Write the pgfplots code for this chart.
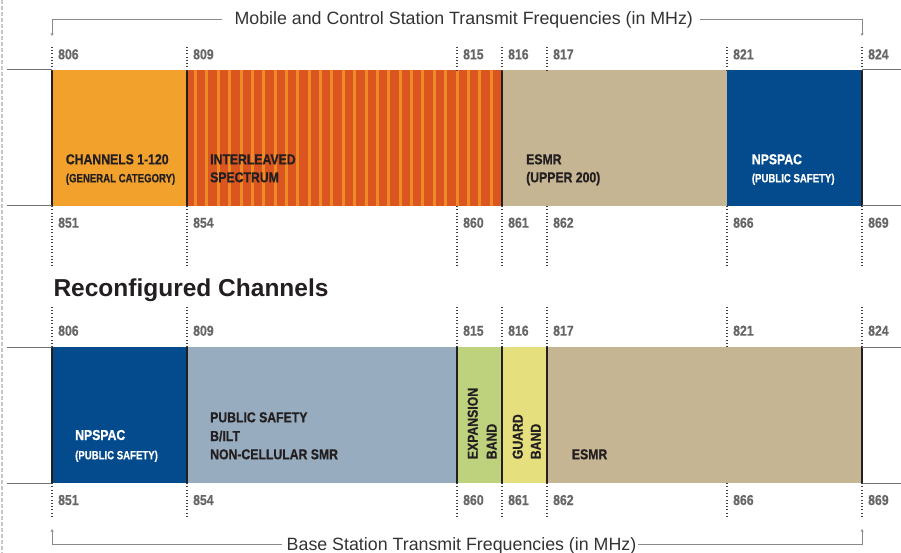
\documentclass[border=0pt]{standalone}
\usepackage{pgfplots}
\pgfplotsset{compat=1.18}
\usetikzlibrary{arrows.meta}
\usepackage{fontspec}
\setmainfont{Liberation Sans}
\newfontfamily\condfont[FakeStretch=0.85,FakeBold=0.6]{Liberation Sans}
\newfontfamily\narrowfont[FakeStretch=0.8,FakeBold=0.5]{Liberation Sans}
\newfontfamily\headfont{Liberation Sans}

\definecolor{bandorange}{HTML}{F2A12C}
\definecolor{interbase}{HTML}{DB5521}
\definecolor{interstripe}{HTML}{EF8B25}
\definecolor{esmrtan}{HTML}{C6B593}
\definecolor{npnavy}{HTML}{034B8C}
\definecolor{psblue}{HTML}{97ACBF}
\definecolor{expgreen}{HTML}{BED17D}
\definecolor{guardyellow}{HTML}{E5DF7E}
\definecolor{darkline}{HTML}{231F20}
\definecolor{tickgray}{HTML}{666666}
\definecolor{brackgray}{HTML}{8A8A8A}

\newcommand{\lab}[1]{{\condfont\bfseries\fontsize{14.4}{16}\selectfont #1}}
\newcommand{\sublab}[1]{{\narrowfont\bfseries\fontsize{12}{14}\selectfont #1}}
\newcommand{\tick}[1]{{\condfont\bfseries\fontsize{14.4}{16}\selectfont #1}}

\begin{document}
\begin{tikzpicture}[
  tk/.style={anchor=base west, inner sep=0, text=tickgray, xshift=6pt},
  bl/.style={anchor=base west, inner sep=0, text=darkline},
  wl/.style={anchor=base west, inner sep=0, text=white},
]
\begin{axis}[
  scale only axis, width=901pt, height=553pt,
  xmin=804.8444, xmax=824.8667, ymin=0, ymax=553,
  y dir=reverse, hide axis, clip=false,
  unbounded coords=jump,
]
% left dashed border
\addplot[draw=black!22, line width=2pt, dash pattern=on 4pt off 2pt] coordinates {(804.889,0) (804.889,553)};

% ---- current band plan
\addplot[fill=bandorange, draw=none] coordinates {(806,70) (809,70) (809,206) (806,206)} -- cycle;
\addplot[fill=interbase, draw=none] coordinates {(809,70) (816,70) (816,206) (809,206)} -- cycle;
\addplot[fill=esmrtan, draw=none] coordinates {(816,70) (821,70) (821,206) (816,206)} -- cycle;
\addplot[fill=npnavy, draw=none] coordinates {(821,70) (824,70) (824,206) (821,206)} -- cycle;
% interleaved stripes
\addplot[draw=interstripe, line width=3pt] coordinates {
(809.19,70) (809.19,206) (nan,nan) (809.44,70) (809.44,206) (nan,nan)
(809.69,70) (809.69,206) (nan,nan) (809.95,70) (809.95,206) (nan,nan)
(810.20,70) (810.20,206) (nan,nan) (810.45,70) (810.45,206) (nan,nan)
(810.70,70) (810.70,206) (nan,nan) (810.96,70) (810.96,206) (nan,nan)
(811.21,70) (811.21,206) (nan,nan) (811.46,70) (811.46,206) (nan,nan)
(811.72,70) (811.72,206) (nan,nan) (811.97,70) (811.97,206) (nan,nan)
(812.22,70) (812.22,206) (nan,nan) (812.47,70) (812.47,206) (nan,nan)
(812.73,70) (812.73,206) (nan,nan) (812.98,70) (812.98,206) (nan,nan)
(813.23,70) (813.23,206) (nan,nan) (813.48,70) (813.48,206) (nan,nan)
(813.74,70) (813.74,206) (nan,nan) (813.99,70) (813.99,206) (nan,nan)
(814.24,70) (814.24,206) (nan,nan) (814.49,70) (814.49,206) (nan,nan)
(814.75,70) (814.75,206) (nan,nan) (815.00,70) (815.00,206) (nan,nan)
(815.25,70) (815.25,206) (nan,nan) (815.50,70) (815.50,206) (nan,nan)
(815.76,70) (815.76,206)};

% ---- reconfigured band plan
\addplot[fill=npnavy, draw=none] coordinates {(806,347) (809,347) (809,483) (806,483)} -- cycle;
\addplot[fill=psblue, draw=none] coordinates {(809,347) (815,347) (815,483) (809,483)} -- cycle;
\addplot[fill=expgreen, draw=none] coordinates {(815,347) (816,347) (816,483) (815,483)} -- cycle;
\addplot[fill=guardyellow, draw=none] coordinates {(816,347) (817,347) (817,483) (816,483)} -- cycle;
\addplot[fill=esmrtan, draw=none] coordinates {(817,347) (824,347) (824,483) (817,483)} -- cycle;

% band edges
\addplot[draw=darkline, line width=2pt] coordinates {
(806,70) (806,206) (nan,nan) (809,70) (809,206) (nan,nan)
(816,70) (816,206) (nan,nan) (824,70) (824,206) (nan,nan)
(806,347) (806,483) (nan,nan) (809,347) (809,483) (nan,nan)
(815,347) (815,483) (nan,nan) (816,347) (816,483) (nan,nan)
(817,347) (817,483) (nan,nan) (824,347) (824,483)};

% outer guide lines
\addplot[draw=black!55, line width=1pt] coordinates {
(805.0,70) (806,70) (nan,nan) (805.0,206) (806,206) (nan,nan)
(824,70) (824.867,70) (nan,nan) (824,206) (824.867,206) (nan,nan)
(805.0,347) (806,347) (nan,nan) (805.0,483) (806,483) (nan,nan)
(824,347) (824.867,347) (nan,nan) (824,483) (824.867,483)};

% dotted frequency markers
\addplot[draw=black!75, line width=1.1pt, dash pattern=on 1pt off 2.3pt] coordinates {
(806,46.7) (806,70) (nan,nan) (809,46.7) (809,70) (nan,nan) (815,46.7) (815,70) (nan,nan)
(816,46.7) (816,70) (nan,nan) (817,46.7) (817,70) (nan,nan) (821,46.7) (821,70) (nan,nan)
(824,46.7) (824,70) (nan,nan)
(806,206) (806,266.7) (nan,nan) (809,206) (809,266.7) (nan,nan) (815,206) (815,266.7) (nan,nan)
(816,206) (816,266.7) (nan,nan) (817,206) (817,266.7) (nan,nan) (821,206) (821,266.7) (nan,nan)
(824,206) (824,266.7) (nan,nan)
(806,306.7) (806,347) (nan,nan) (809,306.7) (809,347) (nan,nan) (815,306.7) (815,347) (nan,nan)
(816,306.7) (816,347) (nan,nan) (817,306.7) (817,347) (nan,nan) (821,306.7) (821,347) (nan,nan)
(824,306.7) (824,347) (nan,nan)
(806,483) (806,518) (nan,nan) (809,483) (809,518) (nan,nan) (815,483) (815,518) (nan,nan)
(816,483) (816,518) (nan,nan) (817,483) (817,518) (nan,nan) (821,483) (821,518) (nan,nan)
(824,483) (824,518)};

% brackets
\addplot[draw=brackgray, line width=0.9pt, -{Stealth[length=3pt,width=3pt]}] coordinates {(809.78,19.3) (806,19.3) (806,36)};
\addplot[draw=brackgray, line width=0.9pt, -{Stealth[length=3pt,width=3pt]}] coordinates {(820.4,19.3) (824,19.3) (824,36)};
\addplot[draw=brackgray, line width=0.9pt, -{Stealth[length=3pt,width=3pt]}] coordinates {(811.11,544) (806,544) (806,529)};
\addplot[draw=brackgray, line width=0.9pt, -{Stealth[length=3pt,width=3pt]}] coordinates {(819.02,544) (824,544) (824,529)};

% titles
\node[anchor=base, inner sep=0, text=black!80] at (axis cs:815.15,25) {\fontsize{17.8}{20}\selectfont Mobile and Control Station Transmit Frequencies (in MHz)};
\node[anchor=base, inner sep=0, text=black!80] at (axis cs:815.1,550) {\fontsize{17.8}{20}\selectfont Base Station Transmit Frequencies (in MHz)};
\node[anchor=base west, inner sep=0, text=darkline] at (axis cs:806.03,296) {\headfont\bfseries\fontsize{24.5}{28}\selectfont Reconfigured Channels};

% tick labels
\node[tk] at (axis cs:806,59.3) {\tick{806}};
\node[tk] at (axis cs:809,59.3) {\tick{809}};
\node[tk] at (axis cs:815,59.3) {\tick{815}};
\node[tk] at (axis cs:816,59.3) {\tick{816}};
\node[tk] at (axis cs:817,59.3) {\tick{817}};
\node[tk] at (axis cs:821,59.3) {\tick{821}};
\node[tk] at (axis cs:824,59.3) {\tick{824}};
\node[tk] at (axis cs:806,227.7) {\tick{851}};
\node[tk] at (axis cs:809,227.7) {\tick{854}};
\node[tk] at (axis cs:815,227.7) {\tick{860}};
\node[tk] at (axis cs:816,227.7) {\tick{861}};
\node[tk] at (axis cs:817,227.7) {\tick{862}};
\node[tk] at (axis cs:821,227.7) {\tick{866}};
\node[tk] at (axis cs:824,227.7) {\tick{869}};
\node[tk] at (axis cs:806,335.7) {\tick{806}};
\node[tk] at (axis cs:809,335.7) {\tick{809}};
\node[tk] at (axis cs:815,335.7) {\tick{815}};
\node[tk] at (axis cs:816,335.7) {\tick{816}};
\node[tk] at (axis cs:817,335.7) {\tick{817}};
\node[tk] at (axis cs:821,335.7) {\tick{821}};
\node[tk] at (axis cs:824,335.7) {\tick{824}};
\node[tk] at (axis cs:806,505) {\tick{851}};
\node[tk] at (axis cs:809,505) {\tick{854}};
\node[tk] at (axis cs:815,505) {\tick{860}};
\node[tk] at (axis cs:816,505) {\tick{861}};
\node[tk] at (axis cs:817,505) {\tick{862}};
\node[tk] at (axis cs:821,505) {\tick{866}};
\node[tk] at (axis cs:824,505) {\tick{869}};

% band labels, current plan
\node[bl] at (axis cs:806.304,164.3) {\lab{CHANNELS 1-120}};
\node[bl] at (axis cs:806.304,182.3) {\sublab{(GENERAL CATEGORY)}};
\node[bl] at (axis cs:809.511,164.3) {\lab{INTERLEAVED}};
\node[bl] at (axis cs:809.511,182.3) {\lab{SPECTRUM}};
\node[bl] at (axis cs:816.533,164.3) {\lab{ESMR}};
\node[bl] at (axis cs:816.533,182.3) {\lab{(UPPER 200)}};
\node[wl] at (axis cs:821.549,164.3) {\lab{NPSPAC}};
\node[wl] at (axis cs:821.549,182.3) {\sublab{(PUBLIC SAFETY)}};

% band labels, reconfigured plan
\node[wl] at (axis cs:806.511,440) {\lab{NPSPAC}};
\node[wl] at (axis cs:806.511,459.3) {\sublab{(PUBLIC SAFETY)}};
\node[bl] at (axis cs:809.511,422.3) {\lab{PUBLIC SAFETY}};
\node[bl] at (axis cs:809.511,441) {\lab{B/ILT}};
\node[bl] at (axis cs:809.511,459.3) {\lab{NON-CELLULAR SMR}};
\node[bl, rotate=90] at (axis cs:815.46,459.3) {\lab{EXPANSION}};
\node[bl, rotate=90] at (axis cs:815.881,459.3) {\lab{BAND}};
\node[bl, rotate=90] at (axis cs:816.46,459.3) {\lab{GUARD}};
\node[bl, rotate=90] at (axis cs:816.86,459.3) {\lab{BAND}};
\node[bl] at (axis cs:817.549,459.3) {\lab{ESMR}};
\end{axis}
\pgfresetboundingbox
\useasboundingbox (current axis.south west) rectangle (current axis.north east);
\end{tikzpicture}
\end{document}
